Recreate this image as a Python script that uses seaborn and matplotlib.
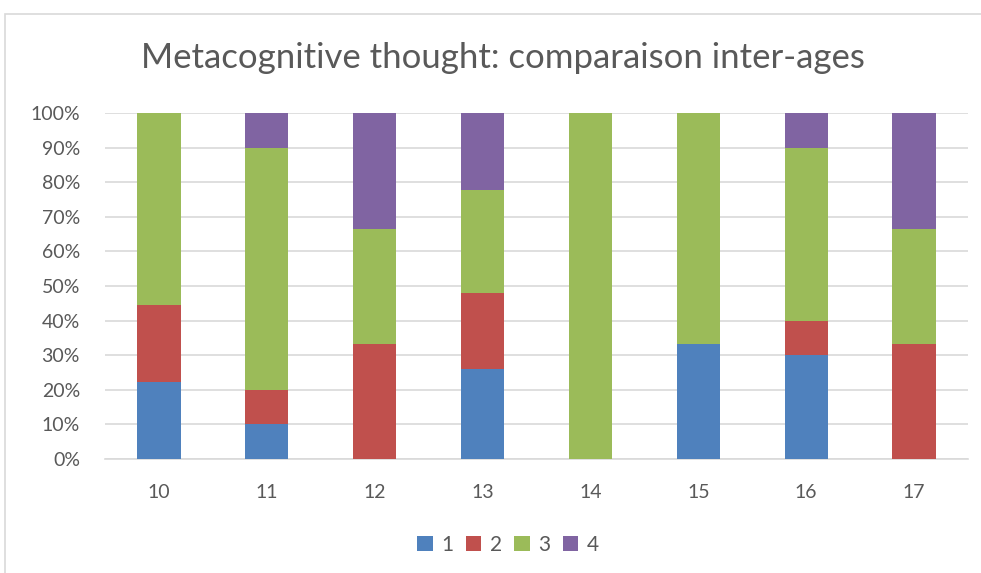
import matplotlib
matplotlib.use("Agg")
import matplotlib.pyplot as plt
import seaborn as sns
import numpy as np
import pandas as pd
from matplotlib.patches import Patch

ages = ["10", "11", "12", "13", "14", "15", "16", "17"]
s1 = [22.2, 10.0, 0.0, 25.9, 0.0, 33.3, 30.0, 0.0]
s2 = [22.2, 10.0, 33.3, 22.2, 0.0, 0.0, 10.0, 33.3]
s3 = [55.6, 70.0, 33.3, 29.6, 100.0, 66.7, 50.0, 33.3]
s4 = [0.0, 10.0, 33.4, 22.3, 0.0, 0.0, 10.0, 33.4]
series_names = ["1", "2", "3", "4"]
colors = ["#4f81bd", "#c0504d", "#9bbb59", "#8064a2"]
title = "Metacognitive thought: comparaison inter-ages"

sns.set_theme(style="white")
plt.rcParams["font.family"] = ["Lato", "DejaVu Sans"]

fig = plt.figure(figsize=(9.81, 5.73), dpi=100)
ax = fig.add_axes([105 / 981, 1 - 459 / 573, 863 / 981, 346 / 573])

vals = np.array([s1, s2, s3, s4])
cum = np.cumsum(vals, axis=0)
# draw from the top series downward so each segment shows
for i in range(3, -1, -1):
    df = pd.DataFrame({"age": ages, "v": np.minimum(cum[i], 100)})
    sns.barplot(data=df, x="age", y="v", color=colors[i], width=0.4,
                saturation=1, ax=ax, zorder=3, edgecolor="none")

ax.set_ylim(0, 100)
ax.set_xlim(-0.5, 7.5)
ax.set_yticks(np.arange(0, 101, 10))
ax.set_yticklabels([f"{t}%" for t in range(0, 101, 10)])
ax.yaxis.grid(True, color="#d9d9d9", linewidth=1.2, zorder=0)
ax.set_axisbelow(True)
for s in ["top", "right", "left"]:
    ax.spines[s].set_visible(False)
ax.spines["bottom"].set_color("#d9d9d9")
ax.spines["bottom"].set_linewidth(1.2)
ax.set_xlabel("")
ax.set_ylabel("")
ax.tick_params(axis="both", length=0, labelsize=14, labelcolor="#595959")
ax.tick_params(axis="y", pad=18)
ax.tick_params(axis="x", pad=18)

fig.text(503 / 981, 1 - 58 / 573, title, ha="center", va="center",
         fontsize=25, color="#595959")

handles = [Patch(facecolor=c, edgecolor="none") for c in colors]
fig.legend(handles, series_names, loc="center", bbox_to_anchor=(508 / 981, 1 - 545 / 573),
           ncol=4, frameon=False, fontsize=15, labelcolor="#595959",
           handlelength=0.75, handleheight=0.75, handletextpad=0.4, columnspacing=0.6)

# outer chart border
border = plt.Rectangle((5 / 981, -0.1), 1.2, 1 - 14 / 573 + 0.1, transform=fig.transFigure,
                       fill=False, edgecolor="#d9d9d9", linewidth=1.2)
fig.add_artist(border)

fig.savefig("out.png", dpi=100)
